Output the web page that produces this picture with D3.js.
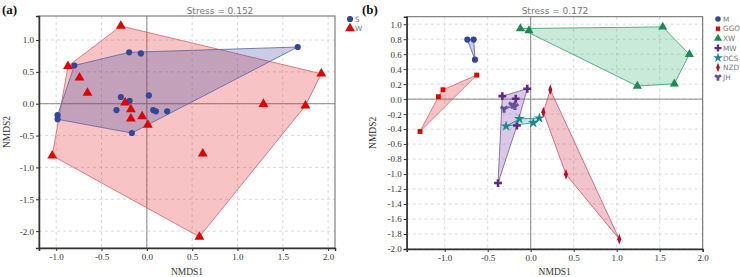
<!DOCTYPE html>
<html>
<head>
<meta charset="utf-8">
<script src="https://cdn.jsdelivr.net/npm/d3@7"></script>
<style>
  html, body { margin: 0; padding: 0; background: #fff; }
  svg { display: block; }
</style>
</head>
<body>
<div id="chart"></div>
<script>
// Panel (a) data: NMDS coordinates by season
const sPoints = [
  [1.665, 0.89], [-0.195, 0.807], [-0.066, 0.79], [-0.80, 0.60], [0.022, 0.13],
  [-0.287, 0.105], [-0.19, 0.047], [-0.335, -0.10], [0.07, -0.10], [0.10, -0.12],
  [0.224, -0.12], [-0.985, -0.18], [-0.985, -0.245], [-0.165, -0.46]
];
const wPoints = [
  [-0.287, 1.22], [-0.87, 0.59], [-0.743, 0.41], [-0.655, 0.17], [-0.24, 0.016],
  [-0.176, -0.088], [-0.176, -0.235], [-0.052, -0.20], [0.011, -0.334], [1.286, -0.005],
  [1.925, 0.47], [1.75, -0.03], [-1.044, -0.816], [0.617, -0.785], [0.58, -2.09]
];
const stressA = "Stress = 0.152";

// Panel (b) data: NMDS coordinates by site
const mPoints = [[-0.737, 0.795], [-0.663, 0.795], [-0.648, 0.527]];
const ggoPoints = [[-1.287, -0.432], [-1.074, 0.032], [-1.02, 0.125], [-0.628, 0.321]];
const xwPoints = [[-0.12, 0.942], [-0.02, 0.915], [1.535, 0.964], [1.845, 0.598], [1.67, 0.205], [1.24, 0.174]];
const mwPoints = [[-0.33, 0.04], [-0.04, 0.139], [-0.174, 0.005], [-0.16, -0.352], [-0.38, -1.12]];
const dcsPoints = [[-0.287, -0.361], [-0.132, -0.263], [0.03, -0.316], [0.10, -0.254]];
const nzdPoints = [[0.228, 0.126], [0.147, -0.174], [0.41, -1.004], [1.03, -1.869]];
const jhPoints = [[-0.31, -0.129], [-0.214, -0.075], [-0.183, -0.094]];
const stressB = "Stress = 0.172";

const xTicksA = d3.range(-1.0, 2.01, 0.5);
const yTicksA = d3.range(-2.0, 1.01, 0.5);
const xTicksB = d3.range(-1.0, 2.01, 0.5);
const yTicksB = d3.range(-2.0, 1.01, 0.2);

const fmt = d3.formatLocale({ decimal: ".", thousands: ",", grouping: [3], currency: ["", ""], minus: "-" }).format(".1f");

const svg = d3.select("#chart").append("svg")
  .attr("width", 740)
  .attr("height", 277);

function drawFrame(x, y, xTicks, yTicks) {
  const [x0, x1] = x.range();
  const [y0, y1] = y.range();
  const g = svg.append("g");

  // dashed grid
  g.selectAll(".gx").data(xTicks).enter().append("line")
    .attr("x1", d => x(d)).attr("x2", d => x(d))
    .attr("y1", y1).attr("y2", y0)
    .attr("stroke", "#cfcfcf").attr("stroke-dasharray", "3,3").attr("stroke-width", 0.8);
  g.selectAll(".gy").data(yTicks).enter().append("line")
    .attr("x1", x0).attr("x2", x1)
    .attr("y1", d => y(d)).attr("y2", d => y(d))
    .attr("stroke", "#cfcfcf").attr("stroke-dasharray", "3,3").attr("stroke-width", 0.8);

  // zero lines
  g.append("line").attr("x1", x(0)).attr("x2", x(0)).attr("y1", y1).attr("y2", y0)
    .attr("stroke", "#8a8a8a").attr("stroke-width", 1);
  g.append("line").attr("x1", x0).attr("x2", x1).attr("y1", y(0)).attr("y2", y(0))
    .attr("stroke", "#8a8a8a").attr("stroke-width", 1);
  return g;
}

function drawAxes(x, y, xTicks, yTicks) {
  const [x0, x1] = x.range();
  const [y0, y1] = y.range();
  svg.append("rect")
    .attr("x", x0).attr("y", y1).attr("width", x1 - x0).attr("height", y0 - y1)
    .attr("fill", "none").attr("stroke", "#666").attr("stroke-width", 1);

  const ax = svg.append("g").attr("transform", `translate(0,${y0})`)
    .call(d3.axisBottom(x).tickValues(xTicks).tickFormat(fmt).tickSize(3).tickPadding(3));
  const ay = svg.append("g").attr("transform", `translate(${x0},0)`)
    .call(d3.axisLeft(y).tickValues(yTicks).tickFormat(fmt).tickSize(3).tickPadding(2));
  [ax, ay].forEach(a => {
    a.select(".domain").attr("stroke", "#333").attr("stroke-width", 1.5);
    a.selectAll(".tick line").attr("stroke", "#333");
    a.selectAll("text").attr("fill", "#333")
      .style("font-family", "'Liberation Serif', 'DejaVu Serif', serif").style("font-size", "9px");
  });
}

function hull(points, x, y, fill, stroke) {
  const h = d3.polygonHull(points.map(p => [x(p[0]), y(p[1])]));
  svg.append("path")
    .attr("d", "M" + h.join("L") + "Z")
    .attr("fill", fill).attr("stroke", stroke).attr("stroke-width", 0.8);
}

function marks(points, x, y, type, size, color, extra) {
  svg.append("g").selectAll("path").data(points).enter().append("path")
    .attr("d", d3.symbol().type(type).size(size))
    .attr("transform", d => `translate(${x(d[0])},${y(d[1])})` + (extra || ""))
    .attr("fill", color);
}

function labels(x, y, panel, stress, stressX, nmds2X) {
  const [x0, x1] = x.range();
  const [y0, y1] = y.range();
  svg.append("text").attr("x", stressX).attr("y", 14).attr("text-anchor", "middle")
    .attr("fill", "#777").style("font-family", "'DejaVu Sans', sans-serif").style("font-size", "9px")
    .text(stress);
  svg.append("text").attr("x", (x0 + x1) / 2).attr("y", 275).attr("text-anchor", "middle")
    .attr("fill", "#333").style("font-family", "'Liberation Serif', serif").style("font-size", "9.5px")
    .text("NMDS1");
  svg.append("text")
    .attr("transform", `translate(${nmds2X},${(y0 + y1) / 2}) rotate(-90)`)
    .attr("text-anchor", "middle")
    .attr("fill", "#333").style("font-family", "'Liberation Serif', serif").style("font-size", "9.5px")
    .text("NMDS2");
  svg.append("text").attr("x", panel.x).attr("y", 14)
    .attr("fill", "#111").style("font-family", "'Liberation Serif', serif").style("font-size", "13px")
    .style("font-weight", "bold").text(panel.t);
}

function legend(items, lx, ly, step, scale) {
  items.forEach((it, i) => {
    svg.append("path")
      .attr("d", d3.symbol().type(it.type).size(it.size * scale))
      .attr("transform", `translate(${lx},${ly + i * step})` + (it.extra || ""))
      .attr("fill", it.color);
    svg.append("text").attr("x", lx + 5).attr("y", ly + i * step + 2.7)
      .attr("fill", "#777").style("font-family", "'DejaVu Sans', sans-serif").style("font-size", "7.3px")
      .text(it.name);
  });
}

// ---------- Panel (a) ----------
const xA = d3.scaleLinear().domain([-1.19, 2.076]).range([39, 335]);
const yA = d3.scaleLinear().domain([-2.265, 1.377]).range([248, 16]);
drawFrame(xA, yA, xTicksA, yTicksA);
hull(wPoints, xA, yA, "rgba(228,40,45,0.28)", "#d4626b");
hull(sPoints, xA, yA, "rgba(60,75,160,0.28)", "#5a63a0");
drawAxes(xA, yA, xTicksA, yTicksA);
marks(sPoints, xA, yA, d3.symbolCircle, 30, "#33479a");
marks(wPoints, xA, yA, d3.symbolTriangle, 42, "#e00000");
labels(xA, yA, { x: 2, t: "(a)" }, stressA, 220, 10);
legend([
  { name: "S", type: d3.symbolCircle, size: 30, color: "#33479a" },
  { name: "W", type: d3.symbolTriangle, size: 42, color: "#e00000" }
], 350, 19, 9.5, 1);

// ---------- Panel (b) ----------
const xB = d3.scaleLinear().domain([-1.442, 2.0]).range([406.7, 702.7]);
const yB = d3.scaleLinear().domain([-2.0, 1.1]).range([249, 16.7]);
drawFrame(xB, yB, xTicksB, yTicksB);
hull(mPoints, xB, yB, "rgba(60,75,160,0.28)", "#5a63a0");
hull(ggoPoints, xB, yB, "rgba(228,40,45,0.28)", "#d4626b");
hull(xwPoints, xB, yB, "rgba(40,170,100,0.25)", "#3a9a6a");
hull(mwPoints, xB, yB, "rgba(120,60,170,0.28)", "#7a55a5");
hull(nzdPoints, xB, yB, "rgba(205,40,70,0.28)", "#c45468");
hull(dcsPoints, xB, yB, "rgba(40,165,165,0.28)", "#2a9a9a");
hull(jhPoints, xB, yB, "rgba(100,90,170,0.28)", "#6a5aa0");
drawAxes(xB, yB, xTicksB, yTicksB);

const keyB = [
  { name: "M", pts: mPoints, type: d3.symbolCircle, size: 30, color: "#33479a" },
  { name: "GGO", pts: ggoPoints, type: d3.symbolSquare, size: 24, color: "#e00000" },
  { name: "XW", pts: xwPoints, type: d3.symbolTriangle, size: 36, color: "#1b8a55" },
  { name: "MW", pts: mwPoints, type: d3.symbolCross, size: 34, color: "#5e2a86" },
  { name: "DCS", pts: dcsPoints, type: d3.symbolStar, size: 36, color: "#1a8a8e" },
  { name: "NZD", pts: nzdPoints, type: d3.symbolDiamond, size: 34, color: "#b0102c", extra: " scale(0.65,1)" },
  { name: "JH", pts: jhPoints, type: d3.symbolWye, size: 32, color: "#65509a" }
];
keyB.forEach(k => marks(k.pts, xB, yB, k.type, k.size, k.color, k.extra));
labels(xB, yB, { x: 362, t: "(b)" }, stressB, 555, 376);
legend(keyB, 718, 19, 9.7, 0.8);
</script>
</body>
</html>
